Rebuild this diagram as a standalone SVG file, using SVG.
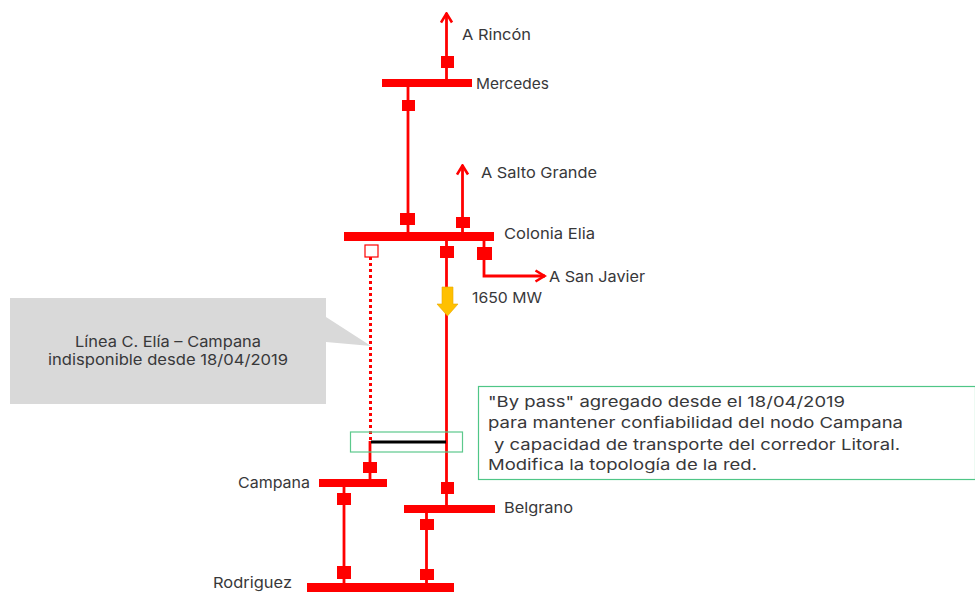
<svg xmlns="http://www.w3.org/2000/svg" width="975" height="592" viewBox="0 0 975 592">
<style>
text{font-family:"Inter","Open Sans","Liberation Sans",sans-serif;font-size:15px;fill:#38383a}
.l{fill:none;stroke:#f00;stroke-width:2.800}
.b,.s{fill:#f00}
</style>
<defs>
<marker id="ah" viewBox="0 0 14 14" refX="12.500" refY="7" markerWidth="14" markerHeight="14" markerUnits="userSpaceOnUse" orient="auto"><path d="M3 1.500L12 7L3 12.500" fill="none" stroke="#f00" stroke-width="2.600"/></marker>
</defs>
<rect width="975" height="592" fill="#fff"/>
<g id="connectors">
<path class="l" d="M446.500 79V13" marker-end="url(#ah)"/>
<path class="l" d="M408 87V232"/>
<path class="l" d="M462.500 232V165" marker-end="url(#ah)"/>
<path class="l" d="M446.500 241V505"/>
<path class="l" d="M484 241V276H545" marker-end="url(#ah)"/>
<path d="M370.500 257V442" fill="none" stroke="#f00" stroke-width="3" stroke-dasharray="3 3"/>
<path class="l" d="M370 441V479"/>
<path d="M371 442H446" fill="none" stroke="#000" stroke-width="2.800"/>
<path class="l" d="M344 487V583"/>
<path class="l" d="M426.500 513V583"/>
</g>
<g id="mercedes"><rect class="b" x="382" y="79" width="90" height="8"/><rect class="s" x="441" y="56" width="13" height="12"/><rect class="s" x="402" y="100" width="13" height="11"/><text x="476" y="89" textLength="73" lengthAdjust="spacingAndGlyphs">Mercedes</text></g>
<g id="a-rincon"><text x="462" y="40" textLength="69" lengthAdjust="spacingAndGlyphs">A Rincón</text></g>
<g id="a-salto-grande"><text x="481" y="178" textLength="116" lengthAdjust="spacingAndGlyphs">A Salto Grande</text></g>
<g id="colonia-elia"><rect class="b" x="344" y="232" width="150" height="9"/><rect class="s" x="400" y="213" width="15" height="12"/><rect class="s" x="456" y="217" width="14" height="11"/><rect x="365" y="245" width="13" height="12" fill="#fff" stroke="#f00" stroke-width="1.200"/><rect class="s" x="440" y="246" width="14" height="12"/><rect class="s" x="477" y="247" width="15" height="13"/><text x="504" y="239" textLength="91" lengthAdjust="spacingAndGlyphs">Colonia Elia</text></g>
<g id="a-san-javier"><text x="549" y="282" textLength="96" lengthAdjust="spacingAndGlyphs">A San Javier</text></g>
<g id="flow"><path d="M442 287H453V304H458L447.500 316L437 304H442Z" fill="#ffc000" stroke="#e8a800" stroke-width=".6"/><text x="472" y="303" textLength="70" lengthAdjust="spacingAndGlyphs">1650 MW</text></g>
<g id="callout"><path d="M10 298H326V317L371 346L326 342V404H10Z" fill="#d9d9d9"/><text x="75" y="347" textLength="186" lengthAdjust="spacingAndGlyphs">Línea C. Elía – Campana</text><text x="48" y="365" textLength="240" lengthAdjust="spacingAndGlyphs">indisponible desde 18/04/2019</text></g>
<g id="bypass-highlight"><rect x="350.500" y="432" width="112" height="20" fill="none" stroke="#5cc98c" stroke-width="1.200"/></g>
<g id="bypass-note"><rect x="478.500" y="386.500" width="497" height="93" fill="none" stroke="#4fc687" stroke-width="1.200"/>
<text x="488" y="407" textLength="357" lengthAdjust="spacingAndGlyphs">"By pass" agregado desde el 18/04/2019</text>
<text x="488" y="428" textLength="415" lengthAdjust="spacingAndGlyphs">para mantener confiabilidad del nodo Campana</text>
<text x="494" y="450" textLength="406" lengthAdjust="spacingAndGlyphs">y capacidad de transporte del corredor Litoral.</text>
<text x="488" y="470" textLength="269" lengthAdjust="spacingAndGlyphs">Modifica la topología de la red.</text></g>
<g id="campana"><rect class="b" x="319" y="479" width="68" height="8"/><rect class="s" x="363" y="462" width="14" height="11"/><rect class="s" x="337" y="493" width="14" height="12"/><text x="238" y="488" textLength="72" lengthAdjust="spacingAndGlyphs">Campana</text></g>
<g id="belgrano"><rect class="b" x="404" y="505" width="91" height="8"/><rect class="s" x="441" y="482" width="13" height="12"/><rect class="s" x="420" y="519" width="14" height="11"/><text x="504" y="513" textLength="69" lengthAdjust="spacingAndGlyphs">Belgrano</text></g>
<g id="rodriguez"><rect class="b" x="307" y="583" width="147" height="9"/><rect class="s" x="337" y="566" width="14" height="13"/><rect class="s" x="420" y="569" width="14" height="11"/><text x="213" y="588" textLength="79" lengthAdjust="spacingAndGlyphs">Rodriguez</text></g>
</svg>
